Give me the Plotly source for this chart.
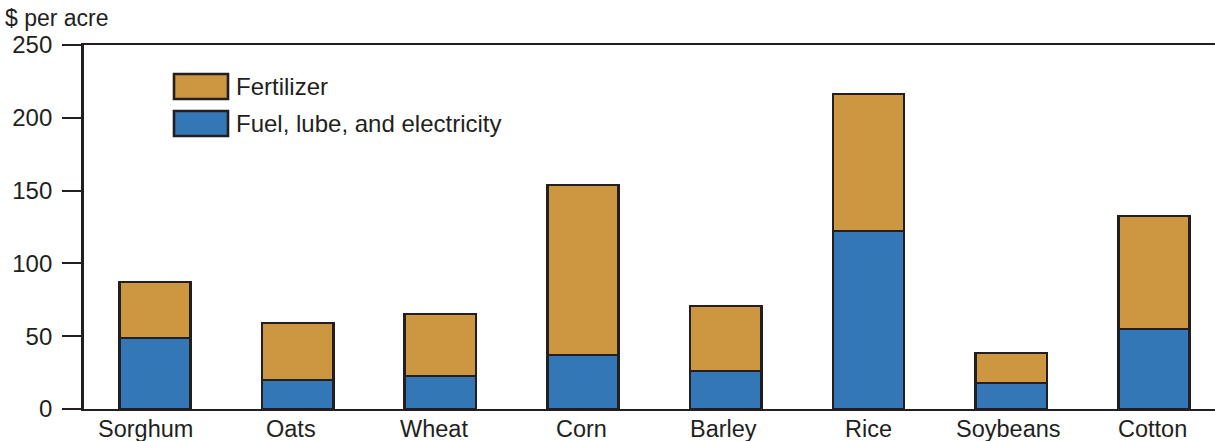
import plotly.graph_objects as go

categories = ["Sorghum", "Oats", "Wheat", "Corn", "Barley", "Rice", "Soybeans", "Cotton"]
fuel = [48.8, 19.9, 22.7, 37.1, 26.1, 122.3, 17.9, 54.9]
fertilizer_total = [87.2, 59.1, 65.2, 153.8, 70.7, 216.3, 38.5, 132.6]
fertilizer = [round(t - f, 1) for t, f in zip(fertilizer_total, fuel)]
y_ticks = [0, 50, 100, 150, 200, 250]
label_shift = [-10, -7, -6, -2, -2, 0, -3, -1]

ORANGE = "#CD9741"
BLUE = "#3377B6"
DARK = "#231F20"
FONT = "Liberation Sans, Arial, sans-serif"

W, H = 1215, 441
L, R, T, B = 84, 0, 45, 32
PW, PH = W - L - R, H - T - B

fig = go.Figure()
fig.add_trace(go.Bar(x=categories, y=fuel, name="Fuel, lube, and electricity",
                     marker=dict(color=BLUE, line=dict(color=DARK, width=2.6)), width=0.5))
fig.add_trace(go.Bar(x=categories, y=fertilizer, name="Fertilizer",
                     marker=dict(color=ORANGE, line=dict(color=DARK, width=2.6)), width=0.5))

def px(x):
    return (x - L) / PW

def py(y):
    return (H - B - y) / PH

legend_items = [("Fertilizer", ORANGE, 74, 99), ("Fuel, lube, and electricity", BLUE, 111, 136)]
for label, col, y0, y1 in legend_items:
    fig.add_shape(type="rect", xref="paper", yref="paper",
                  x0=px(174), x1=px(228), y0=py(y1), y1=py(y0),
                  fillcolor=col, line=dict(color=DARK, width=2.6))
    fig.add_annotation(xref="paper", yref="paper", x=px(234), y=py((y0 + y1) / 2),
                       text=label, showarrow=False, xanchor="left", yanchor="middle",
                       font=dict(family=FONT, size=24, color=DARK))

for cat, dx in zip(categories, label_shift):
    fig.add_annotation(xref="x", yref="paper", x=cat, y=py(429), xshift=dx,
                       text=cat, showarrow=False, xanchor="center", yanchor="middle",
                       font=dict(family=FONT, size=23.5, color=DARK))

fig.add_annotation(xref="paper", yref="paper", x=px(3), y=py(18), text="$ per acre",
                   showarrow=False, xanchor="left", yanchor="middle",
                   font=dict(family=FONT, size=23, color=DARK))

fig.update_layout(
    barmode="stack",
    width=W, height=H,
    margin=dict(l=L, r=R, t=T, b=B, pad=0),
    paper_bgcolor="white", plot_bgcolor="white",
    showlegend=False,
    font=dict(family=FONT, size=23, color=DARK),
    xaxis=dict(range=[-0.4975, 7.428], showline=True, linecolor=DARK, linewidth=2.2,
               mirror=True, ticks="", showgrid=False, zeroline=False,
               showticklabels=False),
    yaxis=dict(range=[0, 250], tickvals=y_ticks, showline=True, linecolor=DARK,
               linewidth=2.8, ticks="outside", ticklen=19, tickwidth=1.5, tickcolor=DARK,
               showgrid=False, zeroline=False, tickfont=dict(size=24),
               ticklabelstandoff=5),
)

fig.write_html("out.html", config={"displayModeBar": False},
               post_script="document.body.style.margin='0';document.body.style.padding='0';")
